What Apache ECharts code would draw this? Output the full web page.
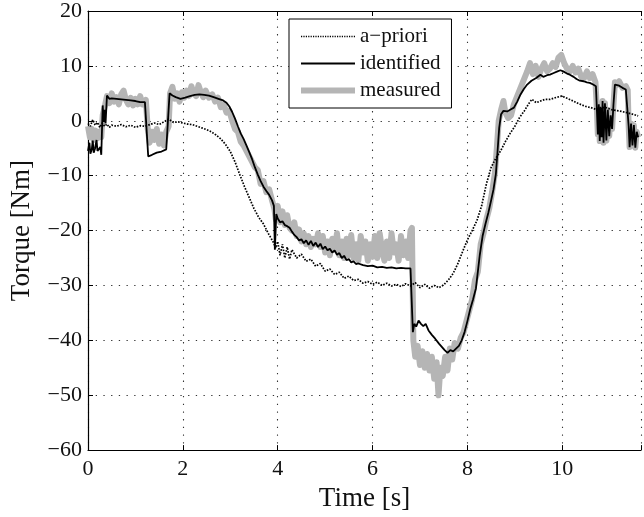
<!DOCTYPE html>
<html>
<head>
<meta charset="utf-8">
<script src="https://cdn.jsdelivr.net/npm/echarts@6/dist/echarts.min.js"></script>
<style>html,body{margin:0;padding:0;background:#fff;}#c{width:644px;height:517px;}</style>
</head>
<body>
<div id="c"></div>
<script>
// ---- data ----
const xTicks = [0, 2, 4, 6, 8, 10];
const yTicks = [-60, -50, -40, -30, -20, -10, 0, 10, 20];
const seriesNames = ['a\u2212priori', 'identified', 'measured'];

const tA = [0.00,0.05,0.10,0.15,0.20,0.25,0.30,0.35,0.40,0.45,0.50,0.60,0.70,0.80,0.90,1.00,1.10,1.20,1.30,1.40,1.50,1.60,1.70,1.75,1.80,1.90,2.00,2.10,2.20,2.30,2.40,2.50,2.60,2.70,2.80,2.90,3.00,3.10,3.20,3.30,3.40,3.50,3.60,3.70,3.80,3.90,3.96,4.00,4.05,4.10,4.15,4.20,4.25,4.30,4.40,4.50,4.60,4.70,4.80,4.90,5.00,5.10,5.20,5.30,5.40,5.50,5.60,5.70,5.80,5.90,6.00,6.10,6.20,6.30,6.40,6.50,6.60,6.70,6.80,6.90,7.00,7.10,7.20,7.30,7.40,7.50,7.60,7.70,7.80,7.90,8.00,8.10,8.20,8.30,8.40,8.50,8.60,8.70,8.80,8.90,9.00,9.10,9.20,9.30,9.36,9.45,9.54,9.64,9.74,9.85,9.99,10.10,10.23,10.35,10.50,10.60,10.71,10.80,10.92,11.05,11.20,11.35,11.48,11.60];
const vA = [-0.5,-1.0,0.2,-0.8,-0.3,-1.2,-0.4,-1.0,-0.6,-1.2,-0.8,-1.0,-0.7,-1.1,-0.8,-1.2,-0.9,-1.0,-0.7,-0.4,-0.7,-0.2,0.3,0.0,-0.3,-0.2,-0.4,-0.6,-0.7,-1.0,-1.3,-1.6,-2.0,-2.6,-3.3,-4.3,-5.6,-7.5,-9.8,-12.0,-14.0,-16.0,-17.6,-18.8,-20.5,-22.0,-23.2,-22.0,-24.5,-22.5,-25.0,-23.0,-25.2,-23.5,-25.0,-24.3,-25.6,-25.2,-26.5,-26.0,-27.4,-27.0,-28.0,-27.6,-28.7,-28.3,-29.1,-28.9,-29.6,-29.3,-29.8,-29.4,-30.0,-29.6,-30.1,-29.8,-30.2,-29.7,-30.1,-29.5,-30.4,-29.8,-30.5,-30.0,-30.4,-29.9,-29.0,-27.8,-26.0,-23.8,-21.7,-20.0,-18.2,-15.5,-11.5,-8.5,-6.8,-5.5,-3.8,-2.3,-1.0,0.6,1.8,3.2,3.9,3.3,3.6,3.9,3.9,4.2,4.5,4.1,3.6,3.1,2.6,2.4,2.1,2.4,2.4,2.0,1.8,1.5,1.2,0.9];

const tI = [0.00,0.03,0.05,0.08,0.10,0.12,0.15,0.18,0.20,0.23,0.26,0.28,0.30,0.31,0.33,0.35,0.37,0.40,0.45,0.50,0.60,0.70,0.80,0.90,1.00,1.10,1.20,1.24,1.27,1.35,1.45,1.55,1.65,1.68,1.72,1.78,1.85,1.95,2.05,2.15,2.25,2.35,2.45,2.55,2.65,2.75,2.85,2.92,2.98,3.04,3.10,3.16,3.22,3.28,3.34,3.40,3.46,3.52,3.58,3.64,3.70,3.76,3.82,3.88,3.92,3.94,3.97,4.00,4.05,4.10,4.15,4.20,4.25,4.30,4.35,4.40,4.45,4.50,4.55,4.60,4.65,4.70,4.75,4.80,4.85,4.90,4.95,5.00,5.05,5.10,5.15,5.20,5.25,5.30,5.35,5.40,5.45,5.50,5.55,5.60,5.65,5.70,5.80,5.90,6.00,6.10,6.20,6.30,6.40,6.50,6.60,6.70,6.80,6.83,6.85,6.88,6.92,6.97,7.02,7.07,7.12,7.18,7.25,7.32,7.40,7.46,7.52,7.58,7.64,7.70,7.76,7.82,7.88,7.94,8.00,8.06,8.12,8.18,8.22,8.26,8.32,8.38,8.44,8.50,8.55,8.60,8.64,8.67,8.71,8.76,8.84,8.92,8.98,9.05,9.12,9.19,9.26,9.35,9.45,9.54,9.60,9.68,9.74,9.82,9.90,9.96,10.02,10.10,10.16,10.24,10.30,10.37,10.45,10.52,10.58,10.65,10.71,10.73,10.75,10.77,10.79,10.81,10.83,10.85,10.87,10.90,10.93,10.96,10.99,11.02,11.05,11.08,11.11,11.15,11.20,11.27,11.34,11.38,11.40,11.42,11.45,11.48,11.51,11.54,11.57,11.60];
const vI = [-5.5,-4.0,-6.0,-5.2,-3.6,-5.8,-5.0,-3.5,-5.5,-5.8,-4.8,-6.2,-6.3,2.8,-0.2,2.0,-0.5,4.6,4.0,4.1,4.0,3.9,3.8,3.7,3.6,3.4,3.4,3.2,-6.5,-6.2,-5.8,-5.6,-5.2,-5.0,5.0,4.6,4.3,4.0,4.2,4.5,4.7,4.8,4.7,4.6,4.3,4.0,3.7,3.3,2.6,1.6,0.4,-1.0,-2.3,-3.3,-4.5,-5.7,-7.0,-8.5,-9.8,-11.0,-12.0,-12.8,-13.5,-14.5,-15.5,-23.5,-17.0,-17.8,-18.5,-18.3,-19.0,-19.2,-19.5,-20.2,-20.8,-21.2,-21.8,-21.6,-22.3,-21.8,-22.6,-21.9,-22.8,-22.2,-23.0,-22.4,-23.4,-22.9,-23.6,-23.3,-24.0,-23.6,-24.4,-24.1,-25.0,-24.6,-25.4,-25.2,-25.8,-25.6,-26.1,-26.0,-26.3,-26.5,-26.4,-26.7,-26.6,-26.8,-26.7,-26.9,-26.8,-26.9,-26.9,-26.7,-38.5,-37.0,-37.5,-36.4,-37.0,-37.4,-37.0,-38.2,-39.0,-39.7,-40.6,-41.2,-41.8,-42.3,-41.8,-42.0,-41.5,-41.0,-40.0,-38.5,-36.5,-34.3,-32.5,-30.5,-27.5,-24.5,-21.0,-18.8,-16.8,-14.5,-12.5,-9.7,-5.0,-1.3,1.2,1.8,1.7,2.1,2.4,3.5,4.8,5.8,6.6,7.3,7.8,8.4,8.0,8.3,8.4,8.7,9.0,9.2,9.0,8.6,8.4,8.0,7.6,7.3,7.2,7.0,6.9,6.6,6.3,2.0,-2.5,3.0,-3.7,2.4,-3.0,3.6,-4.0,3.2,-3.6,2.0,-2.8,1.0,-1.5,3.0,6.6,6.8,6.4,6.0,5.7,5.4,-1.0,-4.8,-0.5,-4.5,-0.8,-4.9,-2.0,-3.0];

const tM = [0.00,0.04,0.08,0.12,0.16,0.20,0.24,0.28,0.31,0.35,0.40,0.45,0.50,0.55,0.60,0.65,0.70,0.75,0.80,0.85,0.90,0.95,1.00,1.05,1.10,1.15,1.22,1.26,1.30,1.35,1.40,1.45,1.50,1.55,1.60,1.65,1.70,1.73,1.78,1.83,1.88,1.93,1.98,2.03,2.08,2.13,2.18,2.23,2.28,2.33,2.38,2.43,2.48,2.55,2.62,2.68,2.74,2.80,2.86,2.92,2.98,3.04,3.10,3.16,3.22,3.28,3.34,3.40,3.46,3.52,3.58,3.64,3.70,3.76,3.82,3.88,3.93,3.96,4.00,4.05,4.10,4.15,4.20,4.25,4.30,4.35,4.40,4.45,4.50,4.55,4.60,4.65,4.70,4.75,4.80,4.85,4.90,4.95,5.00,5.05,5.10,5.15,5.20,5.25,5.30,5.35,5.40,5.45,5.50,5.55,5.60,5.65,5.70,5.75,5.80,5.85,5.90,5.95,6.00,6.05,6.10,6.15,6.20,6.25,6.30,6.35,6.40,6.45,6.50,6.55,6.60,6.65,6.70,6.75,6.80,6.83,6.86,6.90,6.95,7.00,7.05,7.10,7.15,7.20,7.25,7.30,7.35,7.39,7.43,7.48,7.53,7.58,7.63,7.68,7.73,7.80,7.86,7.92,7.98,8.04,8.10,8.16,8.22,8.28,8.34,8.40,8.46,8.52,8.58,8.62,8.66,8.71,8.76,8.80,8.86,8.92,8.98,9.05,9.12,9.19,9.26,9.32,9.38,9.44,9.50,9.56,9.62,9.68,9.74,9.80,9.86,9.92,9.98,10.04,10.10,10.16,10.22,10.28,10.34,10.40,10.46,10.52,10.58,10.64,10.70,10.73,10.75,10.77,10.79,10.81,10.83,10.85,10.87,10.90,10.93,10.96,10.99,11.02,11.05,11.08,11.11,11.15,11.20,11.27,11.34,11.38,11.40,11.42,11.45,11.48,11.51,11.54,11.57,11.60];
const vM = [-1.0,-3.0,-1.5,-3.5,-1.8,-3.2,-2.0,-3.0,1.0,2.5,4.5,3.2,5.0,3.5,4.3,3.0,4.8,5.5,3.8,3.0,4.2,2.8,4.0,3.0,4.5,3.0,3.8,-1.5,-4.0,-2.0,-3.5,-1.5,-4.2,-2.5,-4.5,-2.0,-1.0,5.0,6.2,4.0,5.0,3.5,5.2,4.2,5.5,4.5,6.3,5.0,4.5,6.5,5.2,4.3,5.5,4.2,4.8,3.5,4.2,2.5,3.0,1.5,1.8,0.0,-1.5,-2.0,-3.8,-4.5,-5.5,-6.5,-7.5,-8.5,-9.0,-11.5,-11.0,-13.0,-12.5,-14.5,-16.0,-18.0,-15.5,-18.5,-16.5,-19.0,-17.2,-19.5,-20.0,-18.5,-21.0,-19.8,-22.0,-20.5,-22.5,-21.0,-23.0,-21.5,-22.5,-20.5,-23.0,-21.0,-24.0,-22.0,-24.5,-21.5,-23.5,-20.5,-24.5,-22.0,-25.0,-21.5,-24.5,-20.8,-25.0,-22.5,-25.5,-21.0,-24.0,-22.0,-25.5,-22.5,-24.8,-21.0,-25.0,-20.5,-23.5,-25.5,-22.0,-25.0,-20.5,-24.0,-22.5,-25.5,-21.0,-24.5,-22.0,-25.0,-20.0,-19.5,-40.0,-43.0,-41.0,-44.5,-42.0,-45.0,-42.5,-45.5,-43.0,-47.0,-44.0,-50.0,-45.0,-46.5,-43.0,-45.5,-41.5,-43.5,-40.5,-41.5,-39.5,-38.5,-36.5,-34.5,-32.5,-29.0,-27.5,-22.5,-20.5,-18.0,-16.0,-13.0,-9.5,-5.0,0.0,2.0,3.6,1.5,0.5,1.0,3.0,4.5,6.0,7.5,9.0,10.5,8.5,10.0,8.0,9.5,10.5,9.0,9.5,10.5,9.8,11.5,12.0,10.5,9.5,9.0,10.0,8.8,9.5,8.0,7.8,9.0,7.8,8.5,7.0,2.0,-2.5,3.0,-3.7,2.4,-3.0,3.6,-4.0,3.2,-3.6,2.0,-2.8,1.0,-1.5,3.0,7.0,6.5,7.2,6.0,6.3,5.6,-1.0,-4.8,-0.5,-4.5,-0.8,-4.9,-2.0,-3.0];

// ---- chart ----
const pairs = (t, v) => t.map((x, i) => [x, v[i]]);
const fmtNum = v => (v < 0 ? '\u2212' + Math.abs(v) : String(v));
const FONT = 'Liberation Serif';
const TXT = '#111';
const GRIDLINE = {show: true, lineStyle: {color: '#333', type: [1.3, 6.4], width: 1.1}};

const chart = echarts.init(document.getElementById('c'), null, {renderer: 'canvas'});
chart.setOption({
  animation: false,
  backgroundColor: '#fff',
  textStyle: {fontFamily: FONT, color: TXT},
  grid: {left: 88, top: 9, width: 561, height: 443, containLabel: false},
  legend: {
    data: [
      {name: seriesNames[0], itemStyle: {opacity: 0}, lineStyle: {width: 1.5, type: [1.2, 1.2], color: '#000'}},
      {name: seriesNames[1], itemStyle: {opacity: 0}, lineStyle: {width: 1.8, color: '#000'}},
      {name: seriesNames[2], itemStyle: {opacity: 0}, lineStyle: {width: 6, color: '#b5b5b5'}}
    ],
    orient: 'vertical',
    left: 289, top: 19,
    padding: [7, 11, 7, 9],
    itemGap: 6,
    itemWidth: 54, itemHeight: 14,
    borderColor: '#000', borderWidth: 1,
    backgroundColor: '#fff',
    itemStyle: {opacity: 0},
    textStyle: {fontFamily: FONT, fontSize: 21, color: TXT},
    selectedMode: false
  },
  xAxis: [{
    type: 'value', min: 0, max: 11.66, interval: 2,
    position: 'bottom',
    name: 'Time [s]', nameLocation: 'middle', nameGap: 30,
    nameTextStyle: {fontFamily: FONT, fontSize: 27, color: TXT},
    axisLine: {show: true, onZero: false, lineStyle: {color: '#000', width: 1.2}},
    axisTick: {show: true, inside: true, length: 5, lineStyle: {color: '#000'}},
    axisLabel: {fontFamily: FONT, fontSize: 22, color: TXT, margin: 8,
      formatter: v => (xTicks.indexOf(v) >= 0 ? fmtNum(v) : '')},
    splitLine: GRIDLINE
  }, {
    type: 'value', min: 0, max: 11.66, interval: 2,
    position: 'top',
    axisLine: {show: true, onZero: false, lineStyle: {color: '#000', width: 1.2}},
    axisTick: {show: true, inside: true, length: 5, lineStyle: {color: '#000'}},
    axisLabel: {show: false},
    splitLine: {show: false}
  }],
  yAxis: {
    type: 'value', min: yTicks[0], max: yTicks[yTicks.length - 1], interval: 10,
    name: 'Torque [Nm]', nameLocation: 'middle', nameGap: 53, nameRotate: 90,
    nameTextStyle: {fontFamily: FONT, fontSize: 27, color: TXT},
    axisLine: {show: true, onZero: false, lineStyle: {color: '#000', width: 1.2}},
    axisTick: {show: true, inside: true, length: 5, lineStyle: {color: '#000'}},
    axisLabel: {fontFamily: FONT, fontSize: 22, color: TXT, margin: 6, formatter: fmtNum},
    splitLine: GRIDLINE
  },
  series: [
    {
      name: seriesNames[2], type: 'line', data: pairs(tM, vM),
      symbol: 'none', showSymbol: false, z: 1,
      lineStyle: {color: '#b5b5b5', width: 6, join: 'round'},
      itemStyle: {color: '#b5b5b5'}
    },
    {
      name: seriesNames[0], type: 'line', data: pairs(tA, vA),
      symbol: 'none', showSymbol: false, z: 2,
      lineStyle: {color: '#000', width: 1.7, type: [1.6, 1.4]},
      itemStyle: {color: '#000'}
    },
    {
      name: seriesNames[1], type: 'line', data: pairs(tI, vI),
      symbol: 'none', showSymbol: false, z: 3,
      lineStyle: {color: '#000', width: 1.8},
      itemStyle: {color: '#000'}
    }
  ]
});
</script>
</body>
</html>
